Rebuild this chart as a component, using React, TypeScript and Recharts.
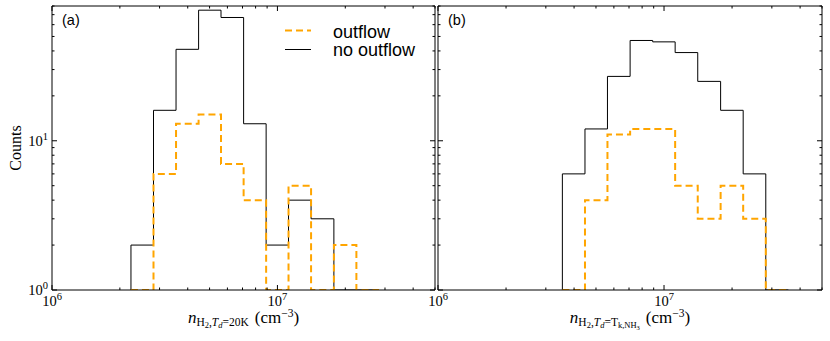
import { LineChart, Line, XAxis, YAxis, Legend } from 'recharts'

// bin edges (cm^-3), 0.1 dex wide
const edgesA = [2.24e6, 2.82e6, 3.55e6, 4.47e6, 5.62e6, 7.08e6, 8.91e6, 1.12e7, 1.41e7, 1.78e7, 2.24e7, 2.82e7]
const noOutflowA = [2, 16, 41, 75, 67, 13, 2, 4, 3, 0, 0]
const outflowA = [0, 6, 13, 15, 7, 4, 0, 5, 0, 2, 0]

const edgesB = [3.55e6, 4.47e6, 5.62e6, 7.08e6, 8.91e6, 1.12e7, 1.41e7, 1.78e7, 2.24e7, 2.82e7, 3.55e7]
const noOutflowB = [6, 12, 27, 47, 46, 39, 25, 16, 6, 0]
const outflowB = [0, 4, 11, 12, 12, 5, 3, 5, 3, 0]

const xTicks = [1e6, 2e6, 3e6, 4e6, 5e6, 6e6, 7e6, 8e6, 9e6, 1e7, 2e7, 3e7, 4e7, 5e7]
const yTicks = [1, 2, 3, 4, 5, 6, 7, 8, 9, 10, 20, 30, 40, 50, 60, 70, 80]

const SERIF = '"Liberation Serif", "DejaVu Serif", serif'
const SANS = '"Liberation Sans", Arial, sans-serif'
const ORANGE = '#FFA500'
const FLOOR = 1

// histogram outline (histtype='step'), empty bins sit on the axis floor
function steps(edges: number[], counts: number[]) {
  const pts = [{ x: edges[0], y: FLOOR }]
  counts.forEach((c, i) => pts.push({ x: edges[i], y: Math.max(c, FLOOR) }))
  pts.push({ x: edges[edges.length - 1], y: FLOOR })
  return pts
}

const isMajor = (v: number) => Math.abs(Math.log10(v) - Math.round(Math.log10(v))) < 1e-6

const Pow = ({ x, y, v, anchor }: any) => (
  <text x={x} y={y} textAnchor={anchor} fontFamily={SERIF} fontSize={14.5} fill="#000">
    10<tspan dy={-6} fontSize={10.5}>{Math.round(Math.log10(v))}</tspan>
  </text>
)

const makeTick = (side: string, labels: boolean) => (props: any) => {
  const { x, y, payload } = props
  const v = payload.value
  const major = isMajor(v)
  const len = major ? 5 : 2.5
  let line
  if (side === 'bottom') line = <line x1={x} x2={x} y1={y} y2={y - len} stroke="#000" />
  else if (side === 'top') line = <line x1={x} x2={x} y1={y} y2={y + len} stroke="#000" />
  else if (side === 'left') line = <line x1={x} x2={x + len} y1={y} y2={y} stroke="#000" />
  else line = <line x1={x} x2={x - len} y1={y} y2={y} stroke="#000" />
  return (
    <g>
      {line}
      {labels && major && side === 'bottom' && <Pow x={x} y={y + 16} v={v} anchor="middle" />}
      {labels && major && side === 'left' && <Pow x={x - 4} y={y + 5} v={v} anchor="end" />}
    </g>
  )
}

const XLabelA = ({ viewBox }: any) => (
  <text x={viewBox.x + viewBox.width / 2} y={viewBox.y + 33} textAnchor="middle" fontFamily={SERIF} fontSize={17} fill="#000">
    <tspan fontStyle="italic">n</tspan>
    <tspan fontSize={11.5} dy={3}>H</tspan>
    <tspan fontSize={8.5} dy={2}>2</tspan>
    <tspan fontSize={11.5} dy={-2}>,</tspan>
    <tspan fontSize={11.5} fontStyle="italic">T</tspan>
    <tspan fontSize={8.5} fontStyle="italic" dy={2}>d</tspan>
    <tspan fontSize={11.5} dy={-2}>=20K</tspan>
    <tspan dx={6} dy={-3}>(cm</tspan>
    <tspan fontSize={11.5} dy={-6}>−3</tspan>
    <tspan dy={6}>)</tspan>
  </text>
)

const XLabelB = ({ viewBox }: any) => (
  <text x={viewBox.x + viewBox.width / 2} y={viewBox.y + 33} textAnchor="middle" fontFamily={SERIF} fontSize={17} fill="#000">
    <tspan fontStyle="italic">n</tspan>
    <tspan fontSize={11.5} dy={3}>H</tspan>
    <tspan fontSize={8.5} dy={2}>2</tspan>
    <tspan fontSize={11.5} dy={-2}>,</tspan>
    <tspan fontSize={11.5} fontStyle="italic">T</tspan>
    <tspan fontSize={8.5} fontStyle="italic" dy={2}>d</tspan>
    <tspan fontSize={11.5} dy={-2}>=T</tspan>
    <tspan fontSize={8.5} dy={2}>k,NH</tspan>
    <tspan fontSize={6.5} dy={1.5}>3</tspan>
    <tspan dx={6} dy={-6.5}>(cm</tspan>
    <tspan fontSize={11.5} dy={-6}>−3</tspan>
    <tspan dy={6}>)</tspan>
  </text>
)

const YLabel = ({ viewBox }: any) => {
  const cx = 15
  const cy = viewBox.y + viewBox.height / 2
  return (
    <text x={cx} y={cy} transform={`rotate(-90 ${cx} ${cy})`} textAnchor="middle" dominantBaseline="central" fontFamily={SERIF} fontSize={16} fill="#000">
      Counts
    </text>
  )
}

const panelTag = (tag: string) => ({ viewBox }: any) => (
  <text x={viewBox.x + 10} y={viewBox.y + 20} fontFamily={SANS} fontSize={14.5} fill="#000">{tag}</text>
)

const LegendBox = () => (
  <svg width={150} height={50}>
    <line x1={5} x2={31} y1={15.5} y2={15.5} stroke={ORANGE} strokeWidth={2} strokeDasharray="7 4" />
    <line x1={5} x2={31} y1={34.5} y2={34.5} stroke="#000" strokeWidth={1} />
    <text x={53} y={23} fontFamily={SANS} fontSize={18} fill="#000">outflow</text>
    <text x={53} y={41} fontFamily={SANS} fontSize={18} fill="#000">no outflow</text>
  </svg>
)

const axisLine = { stroke: '#000', strokeWidth: 1 }

function Panel({ edges, noOut, out, left, width, yAxisWidth, marginRight, tag, xLabel, showYLabels, legend }: any) {
  return (
    <div style={{ position: 'absolute', left, top: 0 }}>
      <LineChart width={width} height={341} margin={{ top: 5, right: marginRight, left: 0, bottom: 0 }}>
        <XAxis xAxisId="b" dataKey="x" type="number" scale="log" domain={[1e6, 5e7]} allowDataOverflow ticks={xTicks} interval={0}
          tickSize={0} tickMargin={0} tickLine={false} axisLine={axisLine} height={51}
          tick={makeTick('bottom', true)} label={{ content: xLabel }} />
        <XAxis xAxisId="t" orientation="top" dataKey="x" type="number" scale="log" domain={[1e6, 5e7]} allowDataOverflow ticks={xTicks} interval={0}
          tickSize={0} tickMargin={0} tickLine={false} axisLine={axisLine} height={1}
          tick={makeTick('top', false)} label={{ content: panelTag(tag) }} />
        <YAxis yAxisId="l" type="number" scale="log" domain={[1, 80]} allowDataOverflow ticks={yTicks} interval={0}
          tickSize={0} tickMargin={0} tickLine={false} axisLine={axisLine} width={yAxisWidth}
          tick={makeTick('left', showYLabels)} label={showYLabels ? { content: YLabel } : undefined} />
        <YAxis yAxisId="r" orientation="right" type="number" scale="log" domain={[1, 80]} allowDataOverflow ticks={yTicks} interval={0}
          tickSize={0} tickMargin={0} tickLine={false} axisLine={axisLine} width={1}
          tick={makeTick('right', false)} />
        {legend && (
          <Legend layout="vertical" align="center" verticalAlign="middle" content={LegendBox}
            wrapperStyle={{ left: 280, top: 15, width: 150, height: 50 }} />
        )}
        <Line xAxisId="b" yAxisId="l" data={steps(edges, noOut)} dataKey="y" type="stepAfter" stroke="#000" strokeWidth={1}
          dot={false} activeDot={false} isAnimationActive={false} name="no outflow" />
        <Line xAxisId="b" yAxisId="l" data={steps(edges, out)} dataKey="y" type="stepAfter" stroke={ORANGE} strokeWidth={2}
          strokeDasharray="7 4" dot={false} activeDot={false} isAnimationActive={false} name="outflow" />
      </LineChart>
    </div>
  )
}

export default function App() {
  return (
    <div style={{ position: 'absolute', left: 0, top: 0, width: 830, height: 341, background: '#fff' }}>
      <Panel edges={edgesA} noOut={noOutflowA} out={outflowA} left={0} width={440} yAxisWidth={52} marginRight={4}
        tag="(a)" xLabel={XLabelA} showYLabels legend />
      <Panel edges={edgesB} noOut={noOutflowB} out={outflowB} left={400} width={430} yAxisWidth={38} marginRight={7}
        tag="(b)" xLabel={XLabelB} showYLabels={false} legend={false} />
    </div>
  )
}
